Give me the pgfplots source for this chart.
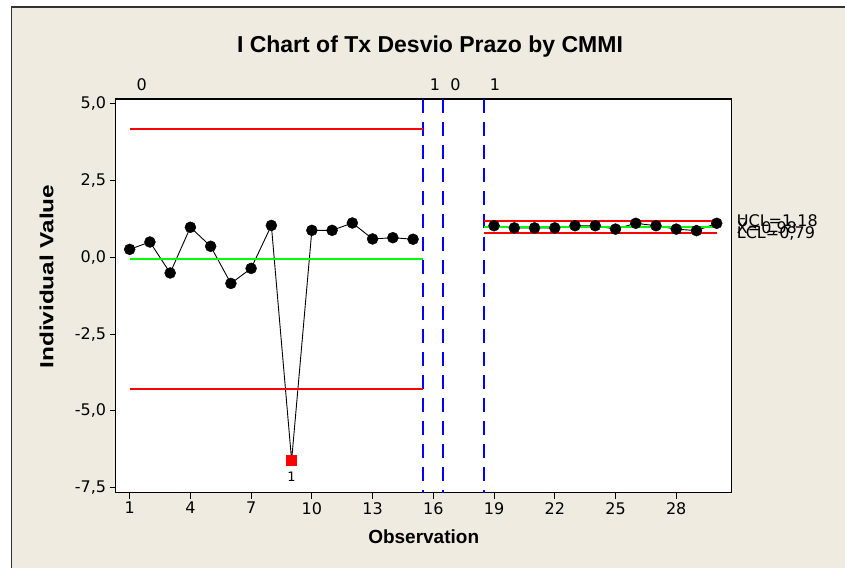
\documentclass[border=0pt]{standalone}
\usepackage{fontspec}
\setmainfont{DejaVu Sans}
\newfontfamily\lib{Liberation Sans}
\usepackage{pgfplots}
\pgfplotsset{compat=1.18}
\definecolor{bgcol}{RGB}{239,235,225}

\begin{document}
\begin{tikzpicture}[x=1pt,y=1pt]
\fill[white] (-115.7,-75.3) rectangle (729.3,492.7);
\fill[bgcol] (-104.2,-75.3) rectangle (729.3,485.7);
\draw[line width=1.5pt, black!80] (-104.2,-75.3) -- (-104.2,485.7) -- (729.3,485.7);
\node[font=\lib\bfseries\fontsize{23}{27}\selectfont] at (314.3,446) {I Chart of Tx Desvio Prazo by CMMI};
\begin{axis}[
  at={(0,0)}, anchor=south west,
  scale only axis, width=616pt, height=393.7pt,
  xmin=0.31, xmax=30.74, ymin=-7.67, ymax=5.16,
  axis background/.style={fill=white},
  axis line style={black, line width=1.2pt},
  xtick={1,4,7,10,13,16,19,22,25,28},
  ytick={-7.5,-5,-2.5,0,2.5,5},
  tick align=outside, major tick length=6pt,
  tick style={black, line width=1pt},
  xtick pos=bottom, ytick pos=left,
  tick label style={font=\fontsize{16}{18}\selectfont},
  /pgf/number format/assume math mode=true,
  yticklabel style={/pgf/number format/.cd, fixed, fixed zerofill, precision=1, use comma},
  xlabel={Observation},
  ylabel={\scalebox{1.28}[1]{Individual Value}},
  label style={font=\lib\bfseries\fontsize{19}{22}\selectfont},
  xlabel style={at={(axis description cs:0.5,-0.112)}, anchor=center},
  ylabel style={at={(axis description cs:-0.112,0.549)}, anchor=center},
  clip=false,
]
% data
\addplot[draw=black, line width=0.9pt, mark=none] coordinates {
(1,0.26) (2,0.50) (3,-0.51) (4,0.98) (5,0.36) (6,-0.85) (7,-0.36) (8,1.04)
(9,-6.62) (10,0.88) (11,0.88) (12,1.12) (13,0.60) (14,0.64) (15,0.59)};
\addplot[draw=black, line width=0.9pt, mark=none] coordinates {
(19,1.03) (20,0.96) (21,0.96) (22,0.96) (23,1.03) (24,1.03) (25,0.92)
(26,1.11) (27,1.03) (28,0.92) (29,0.87) (30,1.11)};
% stage separators
\addplot[color=blue, line width=2pt, dash pattern=on 14pt off 9pt, mark=none] coordinates {(15.5,5.16) (15.5,-7.67)};
\addplot[color=blue, line width=2pt, dash pattern=on 14pt off 9pt, mark=none] coordinates {(16.5,5.16) (16.5,-7.67)};
\addplot[color=blue, line width=2pt, dash pattern=on 14pt off 9pt, mark=none] coordinates {(18.5,5.16) (18.5,-7.67)};
% control limits
\addplot[color=red, line width=2pt, mark=none] coordinates {(1,4.18) (15.5,4.18)};
\addplot[color=red, line width=2pt, mark=none] coordinates {(1,-4.30) (15.5,-4.30)};
\addplot[color=green, line width=2pt, mark=none] coordinates {(1,-0.06) (15.5,-0.06)};
\addplot[color=red, line width=2pt, mark=none] coordinates {(18.5,1.18) (30,1.18)};
\addplot[color=red, line width=2pt, mark=none] coordinates {(18.5,0.79) (30,0.79)};
\addplot[color=green, line width=2pt, mark=none] coordinates {(18.5,0.98) (30,0.98)};
% marks
\addplot[only marks, mark=*, mark size=5.5pt, black] coordinates {
(1,0.26) (2,0.50) (3,-0.51) (4,0.98) (5,0.36) (6,-0.85) (7,-0.36) (8,1.04)
(10,0.88) (11,0.88) (12,1.12) (13,0.60) (14,0.64) (15,0.59)
(19,1.03) (20,0.96) (21,0.96) (22,0.96) (23,1.03) (24,1.03) (25,0.92)
(26,1.11) (27,1.03) (28,0.92) (29,0.87) (30,1.11)};
\addplot[only marks, mark=square*, mark size=5pt, red] coordinates {(9,-6.62)};
% annotations
\node[font=\fontsize{13}{15}\selectfont] at (axis cs:9,-6.62) [yshift=-16pt] {1};
\node[font=\fontsize{16}{18}\selectfont] at (axis cs:1.59,5.16) [yshift=14pt] {0};
\node[font=\fontsize{16}{18}\selectfont] at (axis cs:16.08,5.16) [yshift=14pt] {1};
\node[font=\fontsize{16}{18}\selectfont] at (axis cs:17.1,5.16) [yshift=14pt] {0};
\node[font=\fontsize{16}{18}\selectfont] at (axis cs:19.05,5.16) [yshift=14pt] {1};
\node[font=\fontsize{16}{18}\selectfont, anchor=west, inner sep=0pt] at (axis cs:30.74,1.18) [xshift=5pt] {UCL=1,18};
\node[font=\fontsize{16}{18}\selectfont, anchor=west, inner sep=0pt] at (axis cs:30.74,0.98) [xshift=5pt] {\={X}=0,98};
\node[font=\fontsize{16}{18}\selectfont, anchor=west, inner sep=0pt] at (axis cs:30.74,0.79) [xshift=5pt] {LCL=0,79};
\end{axis}
\pgfresetboundingbox
\path (-115.7,-75.3) rectangle (729.3,492.7);
\end{tikzpicture}
\end{document}
